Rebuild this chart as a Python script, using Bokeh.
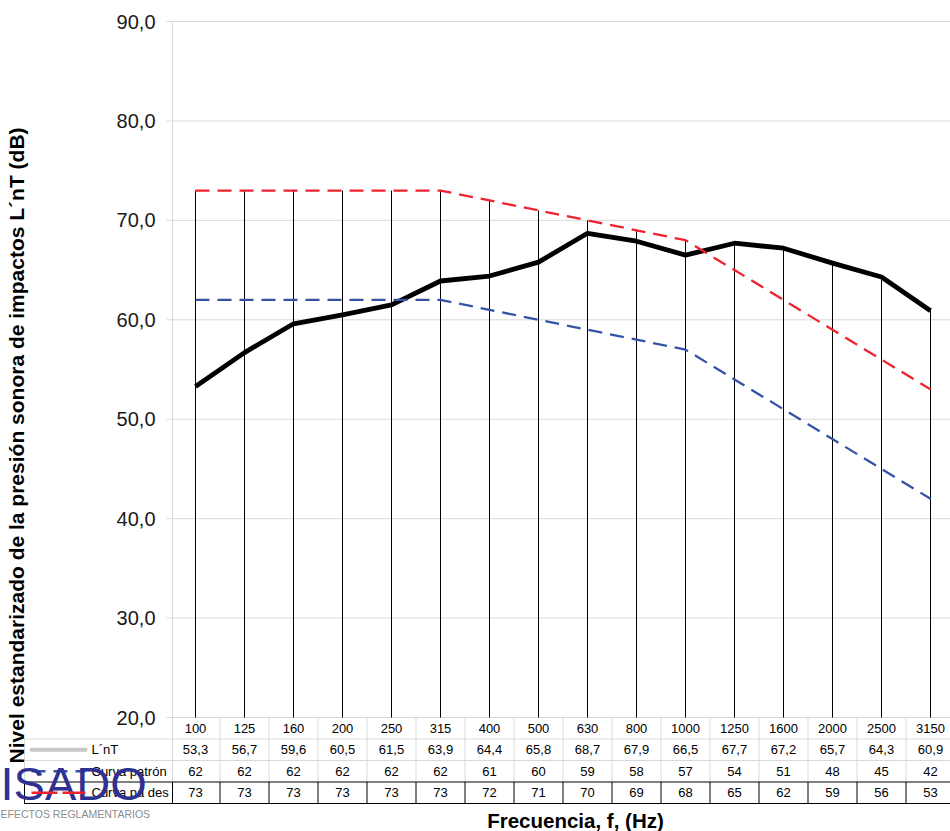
import math
from bokeh.plotting import figure
from bokeh.models import Range1d, ColumnDataSource
from bokeh.core.properties import value
from bokeh.embed import file_html
from bokeh.resources import INLINE

# ---------------- data ----------------
freqs = ["100", "125", "160", "200", "250", "315", "400", "500", "630", "800",
         "1000", "1250", "1600", "2000", "2500", "3150"]
lnt = [53.3, 56.7, 59.6, 60.5, 61.5, 63.9, 64.4, 65.8, 68.7, 67.9, 66.5, 67.7, 67.2, 65.7, 64.3, 60.9]
patron = [62, 62, 62, 62, 62, 62, 61, 60, 59, 58, 57, 54, 51, 48, 45, 42]
desplazada = [73, 73, 73, 73, 73, 73, 72, 71, 70, 69, 68, 65, 62, 59, 56, 53]
y_ticks = [20, 30, 40, 50, 60, 70, 80, 90]
y_tick_labels = ["20,0", "30,0", "40,0", "50,0", "60,0", "70,0", "80,0", "90,0"]
series_names = ["L\u00b4nT", "Curva patr\u00f3n", "Curva pa des"]
y_title = "Nivel estandarizado de la presi\u00f3n sonora de impactos  L\u00b4nT (dB)"
x_title = "Frecuencia, f, (Hz)"
logo_text = "ISADO"
logo_sub = "EFECTOS REGLAMENTARIOS"

# ---------------- geometry (pixels) ----------------
W, H = 950, 831
PX = 49.0                # pixels per category
PY = 9.943               # pixels per dB
X0 = 195                 # pixel x of first category
Y90 = 21                 # pixel y of 90 dB
FONT = "Liberation Sans"
GRID = "#d9d9d9"
BLUE = "#3453a6"
RED = "#f0222e"


def dx(xpix):
    return (xpix - X0) / PX


def dy(ypix):
    return 90 - (ypix - Y90) / PY


p = figure(width=W, height=H, x_range=Range1d(dx(0), dx(W)), y_range=Range1d(dy(H), dy(0)),
           x_axis_type=None, y_axis_type=None, output_backend="svg", toolbar_location=None,
           min_border=0, outline_line_color=None, background_fill_color="white",
           border_fill_color="white")

n = len(freqs)
idx = list(range(n))
y_min = y_ticks[0]

# horizontal gridlines (with outside tick marks)
k = len(y_ticks)
p.segment(x0=[dx(166)] * k, y0=y_ticks, x1=[dx(W)] * k, y1=y_ticks, line_color=GRID, line_width=1)
# y tick labels
p.text(x=[dx(155)] * k, y=y_ticks, text=y_tick_labels, text_align="right", text_baseline="middle",
       text_font=value(FONT), text_font_size="20px", text_color="#1a1a1a")

# table geometry
rows_pix = [717, 738.5, 760, 781.5, 803]
rows = [dy(v) for v in rows_pix]
row_centers = [(rows[i] + rows[i + 1]) / 2 for i in range(4)]
edges = [j - 0.5 for j in range(n + 1)]
edges[0] = dx(172)

# gray left border of plot and table, gray cell separators (rows 1-3)
p.segment(x0=[edges[0]], y0=[y_ticks[-1]], x1=[edges[0]], y1=[rows[3]], line_color=GRID, line_width=1)
p.segment(x0=edges[1:], y0=[rows[0]] * n, x1=edges[1:], y1=[rows[3]] * n, line_color=GRID, line_width=1)
p.segment(x0=[dx(24)] * 2, y0=rows[1:3], x1=[dx(W)] * 2, y1=rows[1:3], line_color=GRID, line_width=1)
p.segment(x0=[dx(24)], y0=[rows[1]], x1=[dx(24)], y1=[rows[3]], line_color=GRID, line_width=1)
# black box around row 4
bx = [dx(24)] + edges
p.segment(x0=bx, y0=[rows[3]] * len(bx), x1=bx, y1=[rows[4]] * len(bx), line_color="black", line_width=1)
p.segment(x0=[dx(24)] * 2, y0=rows[3:5], x1=[dx(W)] * 2, y1=rows[3:5], line_color="black", line_width=1)

# drop lines
tops = [max(a, b, c) for a, b, c in zip(lnt, patron, desplazada)]
p.segment(x0=idx, y0=tops, x1=idx, y1=[y_min] * n, line_color="black", line_width=1)

# series
p.line(idx, lnt, line_color="black", line_width=4.8, line_join="round")
p.line(idx, patron, line_color=BLUE, line_width=2.3, line_dash="14 8")
p.line(idx, desplazada, line_color=RED, line_width=2.3, line_dash="14 8")

# table texts
tx, ty, tt = [], [], []
for i in idx:
    tx += [i] * 4
    ty += row_centers
    tt += [freqs[i], f"{lnt[i]:.1f}".replace(".", ","), str(patron[i]), str(desplazada[i])]
src = ColumnDataSource(dict(x=tx, y=ty, t=tt))
p.text(x="x", y="y", text="t", source=src, text_align="center", text_baseline="middle",
       text_font=value(FONT), text_font_size="13px", text_color="black")

# legend keys + row labels
p.line([dx(31), dx(85)], [row_centers[1]] * 2, line_color="#c8c8c8", line_width=4, line_cap="round")
p.line([dx(31), dx(85)], [row_centers[2]] * 2, line_color=BLUE, line_width=2.3, line_dash="14 8")
p.text(x=[dx(91)] * 3, y=row_centers[1:], text=series_names, text_align="left", text_baseline="middle",
       text_font=value(FONT), text_font_size="13px", text_color="black")

# logo watermark
p.text(x=[dx(0)], y=[dy(783)], text=[logo_text], text_align="left", text_baseline="middle",
       text_font=value(FONT), text_font_size="47px", text_color="#2e3192")
p.text(x=[dx(0)], y=[dy(813)], text=[logo_sub], text_align="left", text_baseline="middle",
       text_font=value(FONT), text_font_size="10.5px", text_color="#8c8c8c")
p.line([dx(31), dx(85)], [row_centers[3]] * 2, line_color=RED, line_width=2.3, line_dash="26 5")

# titles
p.text(x=[dx(16)], y=[dy(442)], text=[y_title], angle=math.pi / 2, text_align="center",
       text_baseline="middle", text_font=value(FONT), text_font_size="21px",
       text_font_style="bold", text_color="black")
p.text(x=[dx(575)], y=[dy(820)], text=[x_title], text_align="center", text_baseline="middle",
       text_font=value(FONT), text_font_size="20.5px", text_font_style="bold", text_color="black")

open("out.html", "w").write(file_html(p, INLINE))
